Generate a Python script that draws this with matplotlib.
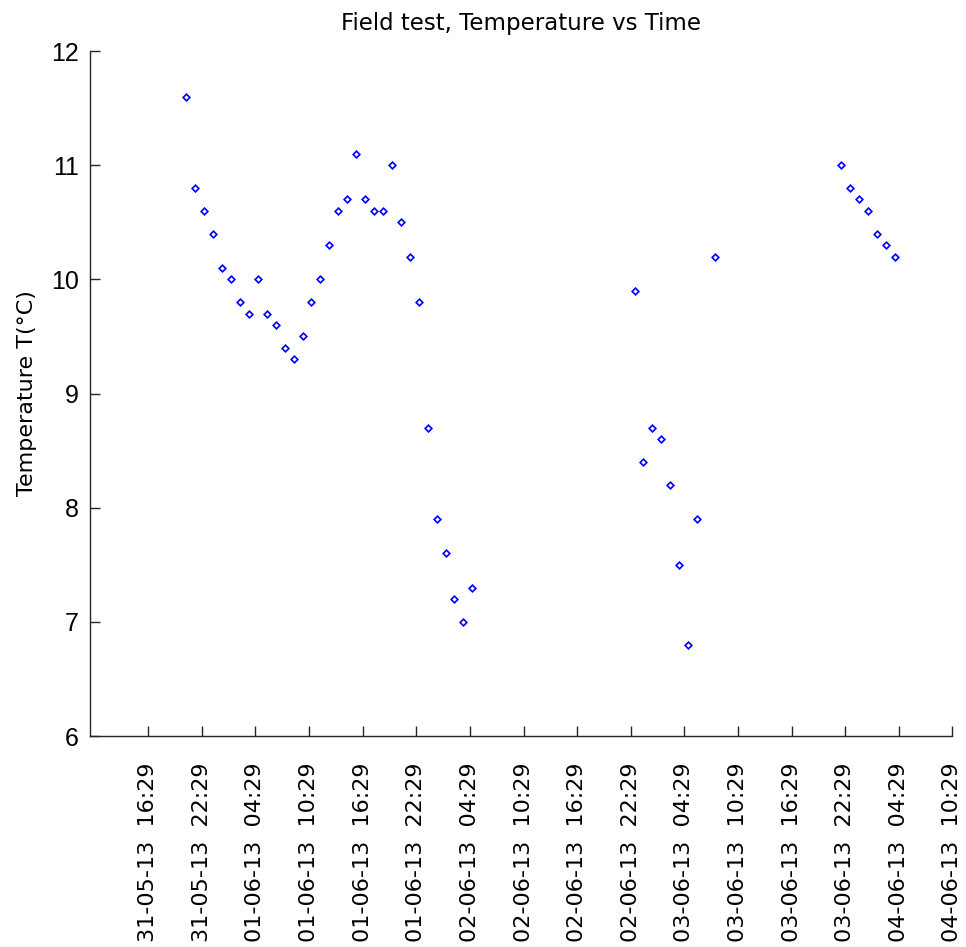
import matplotlib
matplotlib.use("Agg")
import matplotlib.pyplot as plt
from datetime import datetime

# readings (time, temperature in degC)
times = [
    "31-05-13 20:45", "31-05-13 21:45", "31-05-13 22:45", "31-05-13 23:45",
    "01-06-13 00:45", "01-06-13 01:45", "01-06-13 02:45", "01-06-13 03:45",
    "01-06-13 04:45", "01-06-13 05:45", "01-06-13 06:45", "01-06-13 07:45",
    "01-06-13 08:45", "01-06-13 09:45", "01-06-13 10:45", "01-06-13 11:45",
    "01-06-13 12:45", "01-06-13 13:45", "01-06-13 14:45", "01-06-13 15:45",
    "01-06-13 16:45", "01-06-13 17:45", "01-06-13 18:45", "01-06-13 19:45",
    "01-06-13 20:45", "01-06-13 21:45", "01-06-13 22:45", "01-06-13 23:45",
    "02-06-13 00:45", "02-06-13 01:45", "02-06-13 02:45", "02-06-13 03:45",
    "02-06-13 04:45",
    "02-06-13 22:54", "02-06-13 23:54", "03-06-13 00:54", "03-06-13 01:54",
    "03-06-13 02:54", "03-06-13 03:54", "03-06-13 04:54", "03-06-13 05:54",
    "03-06-13 07:54",
    "03-06-13 22:00", "03-06-13 23:00", "04-06-13 00:00", "04-06-13 01:00",
    "04-06-13 02:00", "04-06-13 03:00", "04-06-13 04:00",
]
temps = [
    11.6, 10.8, 10.6, 10.4, 10.1, 10.0, 9.8, 9.7,
    10.0, 9.7, 9.6, 9.4, 9.3, 9.5, 9.8, 10.0,
    10.3, 10.6, 10.7, 11.1, 10.7, 10.6, 10.6, 11.0,
    10.5, 10.2, 9.8, 8.7, 7.9, 7.6, 7.2, 7.0,
    7.3,
    9.9, 8.4, 8.7, 8.6, 8.2, 7.5, 6.8, 7.9,
    10.2,
    11.0, 10.8, 10.7, 10.6, 10.4, 10.3, 10.2,
]
tick_times = [
    "31-05-13 16:29", "31-05-13 22:29", "01-06-13 04:29", "01-06-13 10:29",
    "01-06-13 16:29", "01-06-13 22:29", "02-06-13 04:29", "02-06-13 10:29",
    "02-06-13 16:29", "02-06-13 22:29", "03-06-13 04:29", "03-06-13 10:29",
    "03-06-13 16:29", "03-06-13 22:29", "04-06-13 04:29", "04-06-13 10:29",
]
x_start = "31-05-13 09:58"
y_ticks = [6, 7, 8, 9, 10, 11, 12]

fmt = "%d-%m-%y %H:%M"
t = [datetime.strptime(s, fmt) for s in times]
ticks = [datetime.strptime(s, fmt) for s in tick_times]

fig = plt.figure(figsize=(9.66, 9.47), dpi=100)
ax = fig.add_axes([0.0932, 0.2228, 0.8928, 0.7233])

ax.plot(t, temps, linestyle="none", marker="D", markersize=3.4,
        markerfacecolor="none", markeredgecolor="#0000ff", markeredgewidth=1.2)

ax.set_xlim(datetime.strptime(x_start, fmt), ticks[-1])
ax.set_ylim(6, 12)
ax.set_yticks(y_ticks)
ax.set_xticks(ticks)
ax.set_xticklabels([s.replace(" ", "  ") for s in tick_times], rotation=90,
                   family=["DejaVu Sans"], fontsize=16)
ax.set_yticklabels([str(v) for v in y_ticks],
                   family=["Liberation Sans Narrow", "Liberation Sans", "DejaVu Sans"],
                   fontsize=18)

for side in ["top", "right"]:
    ax.spines[side].set_visible(False)
for side in ["left", "bottom"]:
    ax.spines[side].set_linewidth(1.0)
    ax.spines[side].set_color("#262626")
ax.tick_params(axis="both", direction="in", length=7, width=1.0, color="#262626")
ax.tick_params(axis="x", pad=19)
ax.tick_params(axis="y", pad=8)

ax.set_title("Field test, Temperature vs Time", family=["DejaVu Sans"],
             fontsize=16.5, pad=15)
ax.set_ylabel("Temperature T(°C)", family=["DejaVu Sans"], fontsize=16)
ax.yaxis.set_label_coords(-0.062, 0.5)

fig.savefig("out.png", dpi=100)
